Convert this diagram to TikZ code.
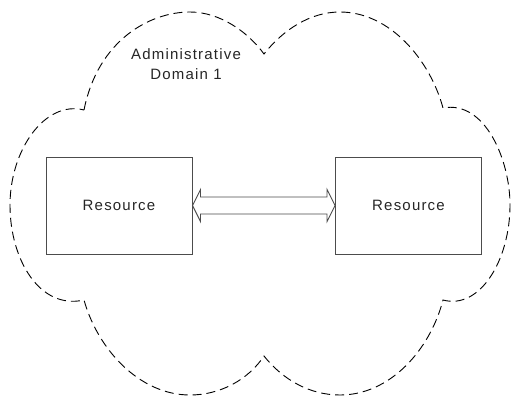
\documentclass[tikz,border=0pt]{standalone}
\usepackage{fontspec}
\setmainfont{Liberation Sans}[LetterSpace=8]
\usetikzlibrary{calc}
\begin{document}
\begin{tikzpicture}[x=1pt,y=-1pt,
  cloudline/.style={draw=black,line width=0.9pt,dash pattern=on 9pt off 5pt},
  resbox/.style={draw=black!70,line width=1pt,minimum width=146pt,minimum height=97pt,inner sep=0pt,text=black!85,font=\fontsize{15}{18}\selectfont},
  dblarrow/.style={draw=black!70,line width=0.9pt,fill=white}]
\useasboundingbox (0,0) rectangle (511,396);
\draw[cloudline] (84,110) .. controls (98,40) and (150,12) .. (190,12)
  .. controls (220,12) and (248,32) .. (264,54)
  .. controls (283,30) and (310,12) .. (340,12)
  .. controls (390,12) and (430,60) .. (443,108)
  .. controls (485,100) and (510,160) .. (510,205)
  .. controls (510,260) and (480,310) .. (443,300)
  .. controls (430,350) and (390,395) .. (340,395)
  .. controls (310,395) and (283,380) .. (264,356)
  .. controls (248,380) and (220,395) .. (190,395)
  .. controls (140,395) and (98,350) .. (84,300)
  .. controls (40,310) and (10,260) .. (10,205)
  .. controls (10,150) and (45,100) .. (84,110);
\node[font=\fontsize{15}{19.5}\selectfont,text=black!85,align=center] (title) at (186,64) {Administrative\\Domain 1};
\node[resbox] (L) at (119,205.5) {Resource};
\node[resbox] (R) at (408.5,205.5) {Resource};
\draw[dblarrow] (L.east) -- ($(L.east)+(8,-16)$) -- ($(L.east)+(8,-8.5)$)
  -- ($(R.west)+(-8,-8.5)$) -- ($(R.west)+(-8,-16)$) -- (R.west)
  -- ($(R.west)+(-8,16)$) -- ($(R.west)+(-8,8.5)$)
  -- ($(L.east)+(8,8.5)$) -- ($(L.east)+(8,16)$) -- cycle;
\end{tikzpicture}
\end{document}
